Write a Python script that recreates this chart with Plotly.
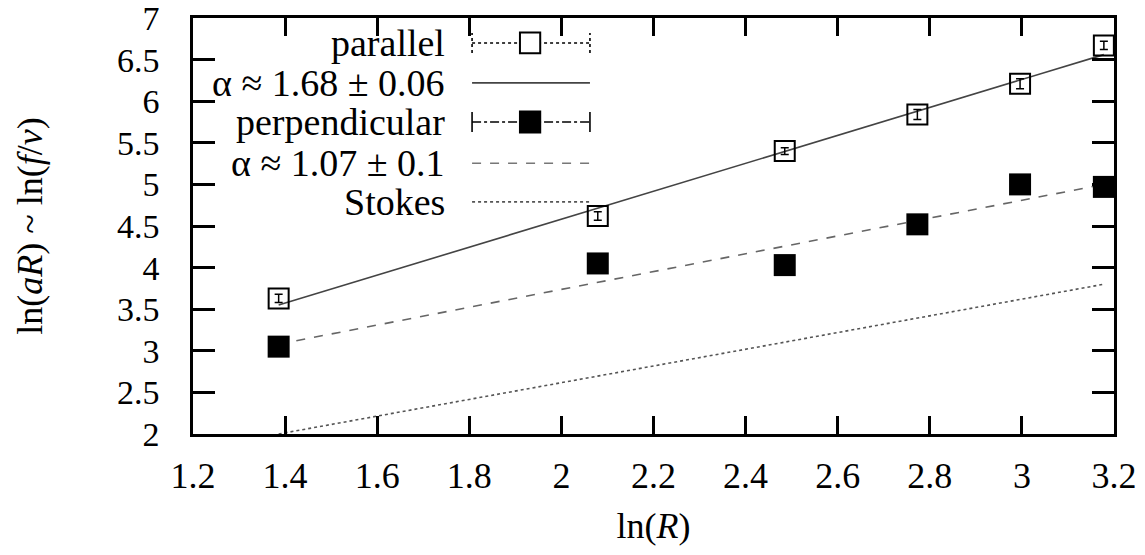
import plotly.graph_objects as go

# data
lnR = [1.386, 2.079, 2.485, 2.773, 2.996, 3.178]
parallel = [3.63, 4.62, 5.40, 5.84, 6.21, 6.67]
parallel_err = [0.05, 0.05, 0.04, 0.06, 0.06, 0.05]
perpendicular = [3.05, 4.05, 4.03, 4.52, 5.00, 4.97]

fit_x = [1.386, 3.178]
fit_parallel = [3.55, 6.56]
fit_perpendicular = [3.08, 5.00]
stokes = [2.00, 3.80]

x_ticks = [1.2, 1.4, 1.6, 1.8, 2.0, 2.2, 2.4, 2.6, 2.8, 3.0, 3.2]
x_ticklabels = ["1.2", "1.4", "1.6", "1.8", "2", "2.2", "2.4", "2.6", "2.8", "3", "3.2"]
y_ticks = [2, 2.5, 3, 3.5, 4, 4.5, 5, 5.5, 6, 6.5, 7]
y_ticklabels = ["2", "2.5", "3", "3.5", "4", "4.5", "5", "5.5", "6", "6.5", "7"]

legend_labels = ["parallel", "α ≈ 1.68 ± 0.06", "perpendicular", "α ≈ 1.07 ± 0.1", "Stokes"]

FONT = "Liberation Serif"

fig = go.Figure()

fig.add_trace(go.Scatter(x=fit_x, y=fit_parallel, mode="lines",
                         line=dict(color="#444444", width=1.6), showlegend=False))
fig.add_trace(go.Scatter(x=fit_x, y=fit_perpendicular, mode="lines",
                         line=dict(color="#666666", width=1.6, dash="dash"), showlegend=False))
fig.add_trace(go.Scatter(x=fit_x, y=stokes, mode="lines",
                         line=dict(color="#555555", width=1.6, dash="dot"), showlegend=False))

fig.add_trace(go.Scatter(x=lnR, y=parallel, mode="markers",
                         marker=dict(symbol="square-open", size=20, color="black",
                                     line=dict(width=2, color="black")),
                         error_y=dict(type="data", array=parallel_err, color="black",
                                      thickness=1.5, width=4),
                         showlegend=False))
fig.add_trace(go.Scatter(x=lnR, y=perpendicular, mode="markers",
                         marker=dict(symbol="square", size=22, color="black"),
                         showlegend=False))

# legend (drawn manually: text right-aligned, sample on the right)
rows_y = [0.940, 0.844, 0.750, 0.651, 0.558]
x_text = 0.276
x0, x1, xm = 0.303, 0.431, 0.366
shapes = []
annotations = []
for lab, ry in zip(legend_labels, rows_y):
    annotations.append(dict(x=x_text, y=ry, xref="paper", yref="paper", text=lab,
                            showarrow=False, xanchor="right", yanchor="middle",
                            font=dict(family=FONT, size=38, color="black")))

def hline(y, color, dash, width=1.6):
    shapes.append(dict(type="line", xref="paper", yref="paper", x0=x0, x1=x1, y0=y, y1=y,
                       line=dict(color=color, width=width, dash=dash)))

def cap(y, dash):
    for xx in (x0, x1):
        shapes.append(dict(type="line", xref="paper", yref="paper", x0=xx, x1=xx,
                           y0=y - 0.024, y1=y + 0.024,
                           line=dict(color="black", width=1.6, dash=dash)))

hline(rows_y[0], "black", "dot"); cap(rows_y[0], "dot")
hline(rows_y[1], "#444444", "solid")
hline(rows_y[2], "black", "dashdot"); cap(rows_y[2], "solid")
hline(rows_y[3], "#777777", "dash")
hline(rows_y[4], "#555555", "dot")

dx, dy = 0.011, 0.025
shapes.append(dict(type="rect", xref="paper", yref="paper", x0=xm - dx, x1=xm + dx,
                   y0=rows_y[0] - dy, y1=rows_y[0] + dy, fillcolor="white",
                   line=dict(color="black", width=2)))
shapes.append(dict(type="rect", xref="paper", yref="paper", x0=xm - dx, x1=xm + dx,
                   y0=rows_y[2] - dy, y1=rows_y[2] + dy, fillcolor="black",
                   line=dict(color="black", width=2)))

fig.update_layout(
    width=1137, height=547,
    margin=dict(l=185, r=31, t=10, b=121),
    paper_bgcolor="white", plot_bgcolor="white",
    font=dict(family=FONT, size=36, color="black"),
    shapes=shapes, annotations=annotations,
    showlegend=False,
)
fig.update_xaxes(range=[1.2, 3.2], tickvals=x_ticks, ticktext=x_ticklabels,
                 tickfont=dict(size=36),
                 ticks="inside", ticklen=18, tickwidth=2.5, tickcolor="black",
                 ticklabelstandoff=8, ticklabeloverflow="allow", automargin=False,
                 showline=True, linewidth=2.5, linecolor="black", mirror="ticks",
                 showgrid=False, zeroline=False,
                 title=dict(text="ln(<i>R</i>)", standoff=18, font=dict(size=36)))
fig.update_yaxes(range=[2, 7], tickvals=y_ticks, ticktext=y_ticklabels,
                 tickfont=dict(size=34),
                 ticks="inside", ticklen=22, tickwidth=2.5, tickcolor="black",
                 ticklabelstandoff=24, ticklabeloverflow="allow", automargin=False,
                 showline=True, linewidth=2.5, linecolor="black", mirror="ticks",
                 showgrid=False, zeroline=False,
                 title=dict(text="ln(<i>aR</i>) ~ ln(<i>f</i>/<i>v</i>)", standoff=64,
                            font=dict(size=36)))

fig.write_html("out.html")
